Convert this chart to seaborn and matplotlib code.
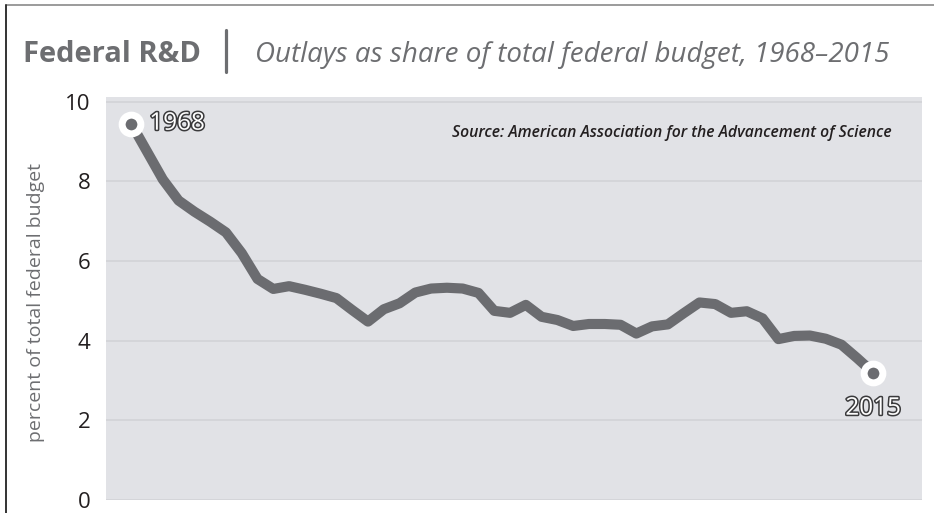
import numpy as np
import pandas as pd
import matplotlib
matplotlib.use("Agg")
import matplotlib.pyplot as plt
import matplotlib.patheffects as pe
from matplotlib.lines import Line2D
import seaborn as sns

# -----------------------------
# Data
# -----------------------------
years = list(range(1968, 2016))
share = [
    9.45, 8.75, 8.05, 7.52, 7.24, 6.99, 6.72, 6.20, 5.55, 5.30,
    5.37, 5.28, 5.18, 5.07, 4.77, 4.48, 4.79, 4.94, 5.21, 5.31,
    5.33, 5.31, 5.20, 4.75, 4.70, 4.90, 4.60, 4.52, 4.37, 4.42,
    4.42, 4.40, 4.18, 4.36, 4.41, 4.69, 4.96, 4.92, 4.70, 4.74,
    4.56, 4.04, 4.12, 4.13, 4.05, 3.90, 3.56, 3.20,
]
yticks = [0, 2, 4, 6, 8, 10]

title_main = "Federal R&D"
title_sub = "Outlays as share of total federal budget, 1968\u20132015"
source = "Source: American Association for the Advancement of Science"
ylabel = "percent of total federal budget"

df = pd.DataFrame({"year": years, "share": share})

# colours
LINE = "#6b6c70"
PANEL = "#e1e2e6"
GRID = "#d2d3d7"
GREY_TXT = "#6d6e71"
DARK_TXT = "#231f20"

sns.set_theme(style="white")
plt.rcParams["font.family"] = ["Open Sans", "DejaVu Sans"]

W, H = 934, 513
fig = plt.figure(figsize=(W / 100, H / 100), dpi=100)
fig.patch.set_facecolor("white")

ax = fig.add_axes([106 / W, (H - 500) / H, (922 - 106) / W, (500 - 97) / H])
ax.set_facecolor(PANEL)

sns.lineplot(data=df, x="year", y="share", ax=ax, color=LINE, linewidth=7.3,
             solid_joinstyle="round", solid_capstyle="round", zorder=3)

# end points
ends = df.iloc[[0, -1]]
ax.plot(ends["year"], ends["share"], linestyle="none", marker="o",
        markersize=13.5, markerfacecolor=LINE, markeredgecolor="white",
        markeredgewidth=5, zorder=4, clip_on=False)

outline = [pe.withStroke(linewidth=2.2, foreground="#3a3a3c")]
ax.annotate(str(years[0]), (years[0], share[0]), xytext=(13, 0),
            textcoords="offset points", ha="left", va="center",
            fontsize=17.5, color="white", path_effects=outline, zorder=5)
ax.annotate(str(years[-1]), (years[-1], share[-1]), xytext=(0, -26),
            textcoords="offset points", ha="center", va="center",
            fontsize=17.5, color="white", path_effects=outline, zorder=5)

ax.text(0.963, 0.911, source, transform=ax.transAxes, ha="right", va="center",
        fontsize=11.3, style="italic", fontweight="semibold", color=DARK_TXT)

ax.set_xlim(1966.4, 2018.1)
ax.set_ylim(0, 10.12)
ax.set_yticks(yticks)
ax.set_xticks([])
ax.yaxis.grid(True, color=GRID, linewidth=1.2)
ax.set_axisbelow(True)
for s in ax.spines.values():
    s.set_visible(False)
ax.tick_params(axis="y", length=0, pad=11, labelsize=16, labelcolor=DARK_TXT)
ax.set_xlabel("")
ax.set_ylabel(ylabel, fontsize=14, color=GREY_TXT)
ax.yaxis.set_label_coords(-0.075, 0.49)

# title row
fig.text(23 / W, 1 - 62 / H, title_main, ha="left", va="baseline",
         fontsize=21, fontweight="bold", color=GREY_TXT)
fig.text(255 / W, 1 - 62 / H, title_sub, ha="left", va="baseline",
         fontsize=20, style="italic", color=GREY_TXT)
fig.add_artist(Line2D([226 / W, 226 / W], [1 - 30 / H, 1 - 72 / H],
                      color=GREY_TXT, linewidth=2.3))

# frame lines at top and left
fig.add_artist(Line2D([6 / W, 1], [1 - 5 / H, 1 - 5 / H], color="#8a8a8a", linewidth=1.2))
fig.add_artist(Line2D([6 / W, 6 / W], [0, 1 - 5 / H], color="#333333", linewidth=1.4))

fig.savefig("out.png", dpi=100, facecolor="white")
